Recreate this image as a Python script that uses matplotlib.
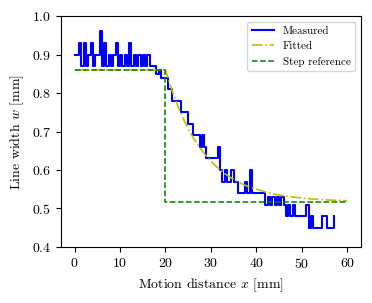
import numpy as np
from matplotlib import pyplot as plt

plt.rcParams['font.family'] = 'serif'
plt.rcParams['font.serif'] = ['cmr10']
plt.rcParams['mathtext.fontset'] = 'cm'
plt.rcParams['axes.formatter.use_mathtext'] = True
plt.rcParams['axes.unicode_minus'] = False

# measured width, sampled every 0.5 mm
measured_x = np.arange(0, 57.5, 0.5)
measured_w = [
    0.90, 0.90, 0.93, 0.87, 0.93, 0.87, 0.90, 0.93, 0.87, 0.90,
    0.90, 0.96, 0.87, 0.93, 0.87, 0.90, 0.87, 0.90, 0.93, 0.87,
    0.90, 0.87, 0.90, 0.87, 0.93, 0.87, 0.90, 0.87, 0.90, 0.87,
    0.90, 0.87, 0.90, 0.87, 0.87, 0.87, 0.85, 0.86, 0.84, 0.84,
    0.84, 0.81, 0.81, 0.78, 0.78, 0.78, 0.78, 0.75, 0.75, 0.75,
    0.72, 0.72, 0.69, 0.69, 0.69, 0.66, 0.69, 0.66, 0.63, 0.63,
    0.63, 0.63, 0.63, 0.66, 0.60, 0.57, 0.60, 0.57, 0.57, 0.60,
    0.57, 0.57, 0.54, 0.54, 0.54, 0.57, 0.54, 0.60, 0.54, 0.54,
    0.54, 0.54, 0.54, 0.54, 0.51, 0.53, 0.51, 0.53, 0.51, 0.53,
    0.51, 0.53, 0.51, 0.48, 0.51, 0.48, 0.51, 0.48, 0.48, 0.48,
    0.48, 0.48, 0.51, 0.45, 0.48, 0.45, 0.45, 0.45, 0.45, 0.48,
    0.48, 0.45, 0.45, 0.45, 0.48,
]

fitted_x = [0, 20, 21, 22, 23, 24, 25, 26, 27, 28, 29, 30, 31, 32, 33, 34,
            35, 36, 37, 38, 39, 40, 42, 44, 46, 48, 50, 53, 56, 60]
fitted_w = [0.860, 0.860, 0.822, 0.788, 0.758, 0.731, 0.707, 0.686, 0.668,
            0.651, 0.636, 0.623, 0.611, 0.601, 0.591, 0.583, 0.576, 0.569,
            0.563, 0.558, 0.554, 0.550, 0.543, 0.537, 0.533, 0.530, 0.527,
            0.524, 0.522, 0.520]

step_x = [0, 20, 20, 60]
step_w = [0.86, 0.86, 0.517, 0.517]

fig = plt.figure(figsize=(3.72, 3.03), dpi=100)
ax = fig.add_subplot()
fig.subplots_adjust(left=0.164, right=0.970, top=0.947, bottom=0.185)

ax.plot(measured_x, measured_w[:len(measured_x)], color='b', lw=1.5,
        drawstyle='steps-post', label='Measured')
ax.plot(fitted_x, fitted_w, 'y-.', lw=1.2, label='Fitted')
ax.plot(step_x, step_w, 'g--', lw=1.1, label='Step reference')

ax.set_ylim(0.4, 1.0)
ax.set_xticks(range(0, 61, 10))
ax.tick_params(labelsize=10)
ax.set_xlabel('Motion distance $x$ [mm]', fontsize=10)
ax.set_ylabel('Line width $w$ [mm]', fontsize=10)
ax.legend(loc='upper right', fontsize=8, handlelength=2.0)

fig.savefig('out.png', dpi=100)
